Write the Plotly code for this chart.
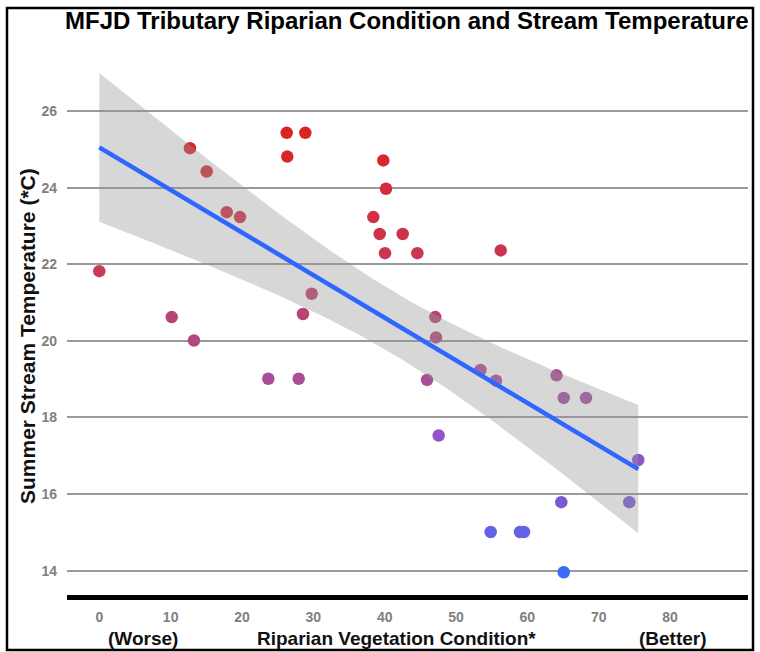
import numpy as np
import plotly.graph_objects as go

# ---- data ----
riparian_condition = [0, 10.15, 12.71, 13.27, 15.05, 17.86, 19.72, 23.69, 26.27, 28.88,
                      26.35, 27.95, 28.55, 29.77, 39.81, 40.19, 38.41, 39.30, 42.53, 40.05,
                      44.58, 56.27, 47.10, 47.20, 45.94, 47.57, 53.43, 55.61, 64.09, 65.10,
                      68.22, 75.55, 64.76, 74.29, 54.86, 58.97, 59.53, 65.10]
stream_temp = [21.82, 20.62, 25.03, 20.01, 24.42, 23.36, 23.23, 19.01, 25.43, 25.43,
               24.81, 19.01, 20.70, 21.23, 24.71, 23.97, 23.23, 22.79, 22.79, 22.29,
               22.29, 22.36, 20.62, 20.09, 18.98, 17.53, 19.24, 18.96, 19.10, 18.51,
               18.51, 16.89, 15.79, 15.79, 15.01, 15.01, 15.01, 13.96]
x_ticks = [0, 10, 20, 30, 40, 50, 60, 70, 80]
y_ticks = [14, 16, 18, 20, 22, 24, 26]

title_text = "MFJD Tributary Riparian Condition and Stream Temperature"
y_title = "Summer Stream Temperature (*C)"
x_title = "Riparian Vegetation Condition*"
x_left_note = "(Worse)"
x_right_note = "(Better)"

# ---- linear fit with 95% confidence band ----
x = np.array(riparian_condition)
y = np.array(stream_temp)
n = len(x)
slope, intercept = np.polyfit(x, y, 1)
resid = y - (slope * x + intercept)
s = np.sqrt(np.sum(resid ** 2) / (n - 2))
xbar = x.mean()
sxx = np.sum((x - xbar) ** 2)
t_crit = 2.028
xf = np.linspace(x.min(), x.max(), 80)
yf = slope * xf + intercept
se = s * np.sqrt(1 / n + (xf - xbar) ** 2 / sxx)
upper = yf + t_crit * se
lower = yf - t_crit * se

# ---- layout geometry ----
W, H = 760, 652
L, R, T, B = 67, 12, 53, 57
pw, ph = W - L - R, H - T - B


def px(xp):
    return (xp - L) / pw


def py(yp):
    return (H - B - yp) / ph


colorscale = [
    [0.00, "#3a6af6"],
    [0.09, "#6262e6"],
    [0.16, "#7a5ad2"],
    [0.31, "#9650c8"],
    [0.44, "#a84e96"],
    [0.53, "#b24a80"],
    [0.58, "#b84476"],
    [0.68, "#c83c5c"],
    [0.74, "#cc3450"],
    [1.00, "#da2424"],
]

fig = go.Figure()
fig.add_trace(go.Scatter(
    x=riparian_condition, y=stream_temp, mode="markers",
    marker=dict(size=12.5, color=stream_temp, colorscale=colorscale,
                cmin=min(stream_temp), cmax=max(stream_temp), line=dict(width=0)),
    showlegend=False, hoverinfo="x+y"))
fig.add_trace(go.Scatter(
    x=np.concatenate([xf, xf[::-1]]), y=np.concatenate([upper, lower[::-1]]),
    fill="toself", fillcolor="rgba(150,150,150,0.38)", line=dict(width=0),
    mode="lines", showlegend=False, hoverinfo="skip"))
fig.add_trace(go.Scatter(
    x=xf, y=yf, mode="lines", line=dict(color="#2f66ff", width=4.5),
    showlegend=False, hoverinfo="skip"))

tick_font = dict(family="Liberation Sans, Arial, sans-serif", size=14, color="#808080",
                 weight="bold")
fig.update_xaxes(range=[-4.528, 90.93], tickvals=x_ticks, showgrid=False, zeroline=False,
                 showline=True, linewidth=5, linecolor="black", ticks="",
                 tickfont=tick_font, ticklabelstandoff=5)
fig.update_yaxes(range=[26 - (H - B - 111) / 38.31, 26 + (111 - T) / 38.31],
                 tickvals=y_ticks, showgrid=True, gridcolor="#9a9a9a", gridwidth=1.5,
                 zeroline=False, showline=False, ticks="", tickfont=tick_font,
                 ticklabelstandoff=9)

label_font = dict(family="Liberation Sans, Arial, sans-serif", size=19, color="#111111")
annotations = [
    dict(text="<b>%s</b>" % title_text, x=px(406.5), y=py(21),
         font=dict(family="Liberation Sans, Arial, sans-serif", size=24, color="black")),
    dict(text="<b>%s</b>" % y_title, x=px(28), y=py(336), textangle=-90,
         font=dict(family="Liberation Sans, Arial, sans-serif", size=21, color="#111111")),
    dict(text="<b>%s</b>" % x_left_note, x=px(142.5), y=py(638), font=label_font),
    dict(text="<b>%s</b>" % x_title, x=px(396.7), y=py(638), font=label_font),
    dict(text="<b>%s</b>" % x_right_note, x=px(672.5), y=py(638), font=label_font),
]
for a in annotations:
    a.update(xref="paper", yref="paper", showarrow=False, xanchor="center", yanchor="middle")

fig.update_layout(
    width=W, height=H, margin=dict(l=L, r=R, t=T, b=B),
    paper_bgcolor="white", plot_bgcolor="white",
    annotations=annotations,
    shapes=[dict(type="rect", xref="paper", yref="paper",
                 x0=px(7), x1=px(753), y0=py(650), y1=py(8),
                 line=dict(color="black", width=2.5), layer="above")],
)

fig.write_html("out.html", config={"displayModeBar": False},
               post_script="document.body.style.margin='0px';document.body.style.overflow='hidden';")
